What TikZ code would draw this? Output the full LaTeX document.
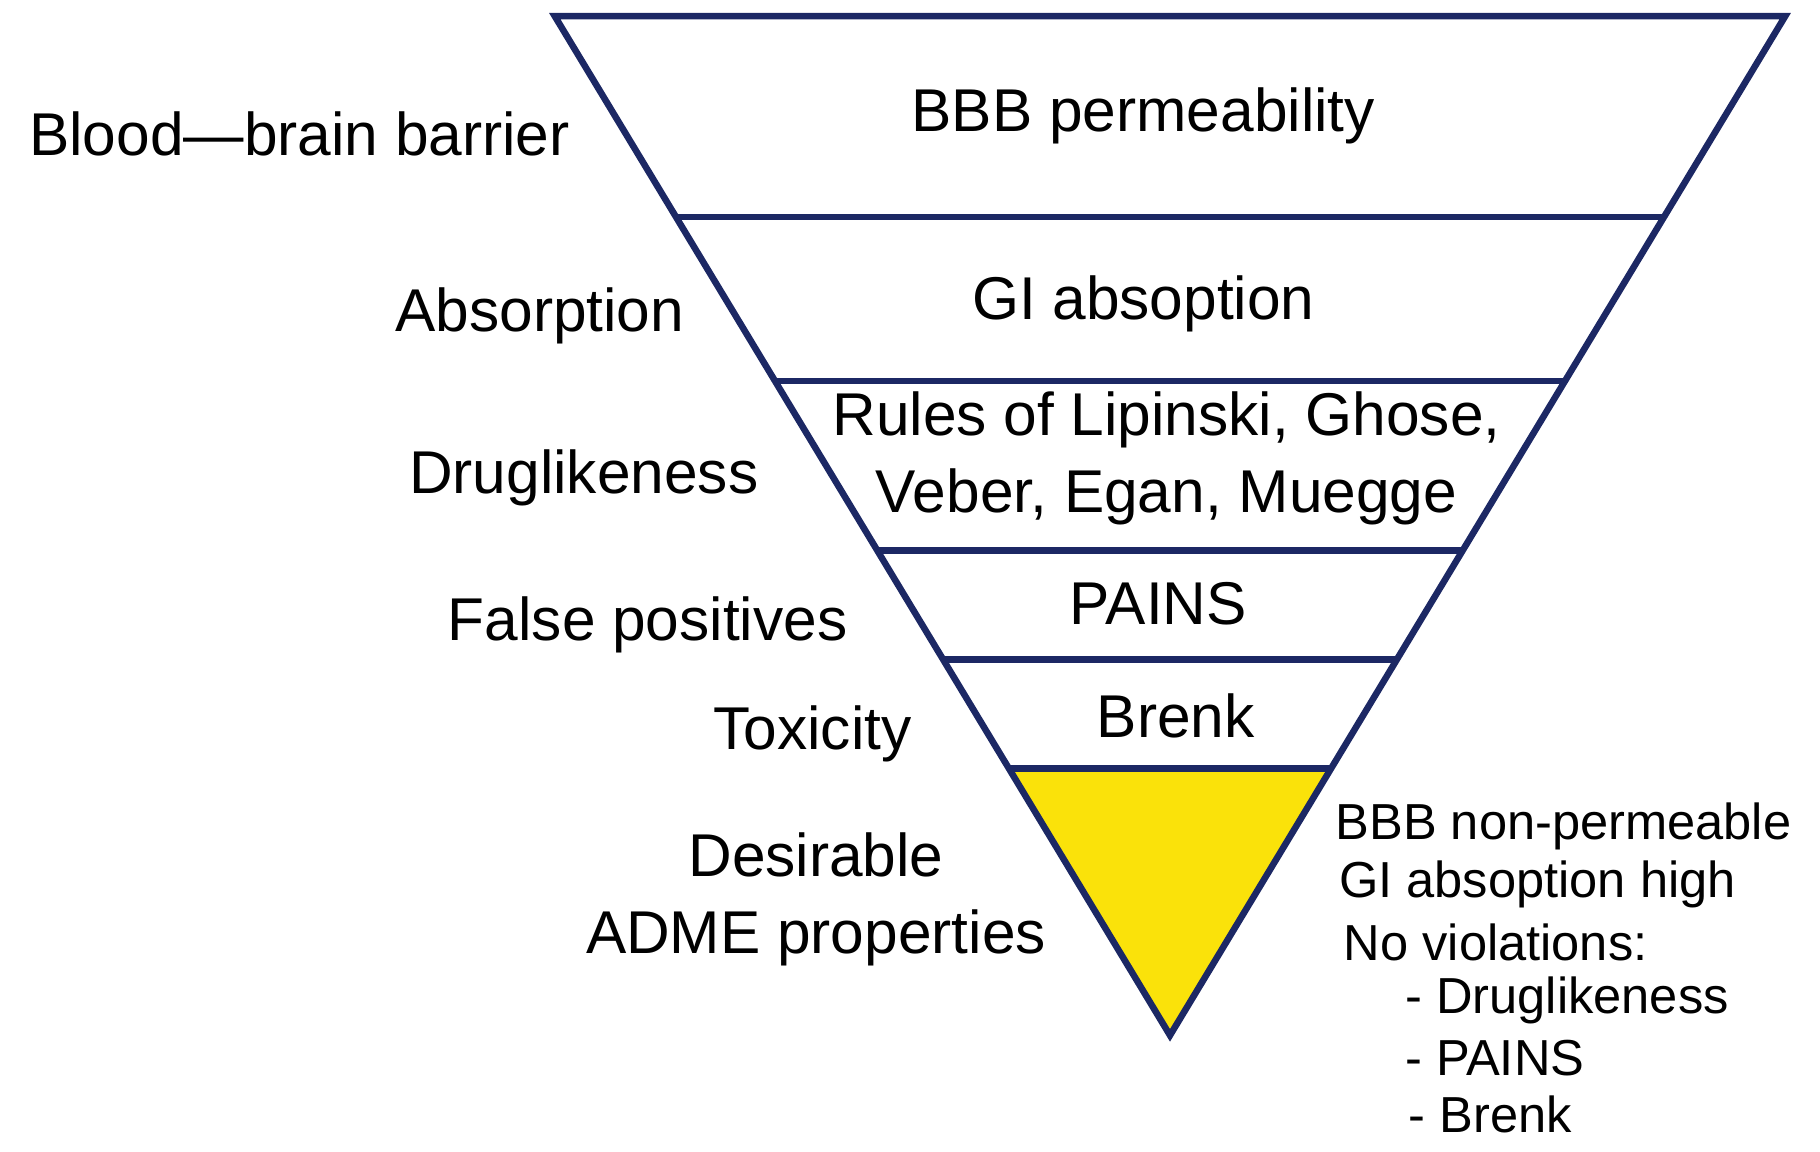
\documentclass[tikz,border=0pt]{standalone}
\usepackage{fontspec}
\setmainfont{Liberation Sans}
\usetikzlibrary{calc}
\definecolor{funnelblue}{RGB}{28,40,100}
\definecolor{funnelyellow}{RGB}{250,226,10}
\begin{document}
\begin{tikzpicture}[x=0.01cm,y=-0.01cm,
  edge/.style={draw=funnelblue, line width=1.6pt},
  lbl/.style={font=\fontsize{14.8}{19}\selectfont, inner sep=0pt},
  note/.style={font=\fontsize{12.4}{15}\selectfont, inner sep=0pt, anchor=west}]
\useasboundingbox (0,0) rectangle (1568,992);
\coordinate (tl) at (478,14);
\coordinate (tr) at (1538,14);
\coordinate (apex) at (1008,892);
% band borders on both edges
\coordinate (l1) at ($(tl)!0.197!(apex)$); \coordinate (r1) at ($(tr)!0.197!(apex)$);
\coordinate (l2) at ($(tl)!0.358!(apex)$); \coordinate (r2) at ($(tr)!0.358!(apex)$);
\coordinate (l3) at ($(tl)!0.524!(apex)$); \coordinate (r3) at ($(tr)!0.524!(apex)$);
\coordinate (l4) at ($(tl)!0.631!(apex)$); \coordinate (r4) at ($(tr)!0.631!(apex)$);
\coordinate (l5) at ($(tl)!0.738!(apex)$); \coordinate (r5) at ($(tr)!0.738!(apex)$);
\fill[funnelyellow] (l5) -- (r5) -- (apex) -- cycle;
\draw[edge] (tl) -- (tr) -- (apex) -- cycle;
\draw[edge] (l1) -- (r1);
\draw[edge] (l2) -- (r2);
\draw[edge] (l3) -- (r3);
\draw[edge] (l4) -- (r4);
\draw[edge] (l5) -- (r5);
% band texts
\node[lbl] (bbb) at (985,100) {BBB permeability};
\node[lbl] (gi) at (985,262) {GI absoption};
\node[lbl] (rules) at (1005,395) {\begin{tabular}{@{}c@{}}Rules of Lipinski, Ghose,\\Veber, Egan, Muegge\end{tabular}};
\node[lbl] (pains) at (998,520) {PAINS};
\node[lbl] (brenk) at (1013,617) {Brenk};
% left labels
\node[lbl] (blood) at (258,115) {Blood---brain barrier};
\node[lbl] (absorb) at (465,272) {Absorption};
\node[lbl] (drug) at (503,412) {Druglikeness};
\node[lbl] (false) at (558,538) {False positives};
\node[lbl] (tox) at (700,632) {Toxicity};
\node[lbl] (adme) at (703,775) {\begin{tabular}{@{}c@{}}Desirable\\ADME properties\end{tabular}};
% outcome list
\node[note] (n1) at (1150,712) {BBB non-permeable};
\node[note] (n2) at (1153,762) {GI absoption high};
\node[note] (n3) at (1157,812) {No violations:};
\node[note] (n4) at (1210,862) {- Druglikeness};
\node[note] (n5) at (1210,912) {- PAINS};
\node[note] (n6) at (1213,960) {- Brenk};
\end{tikzpicture}
\end{document}
